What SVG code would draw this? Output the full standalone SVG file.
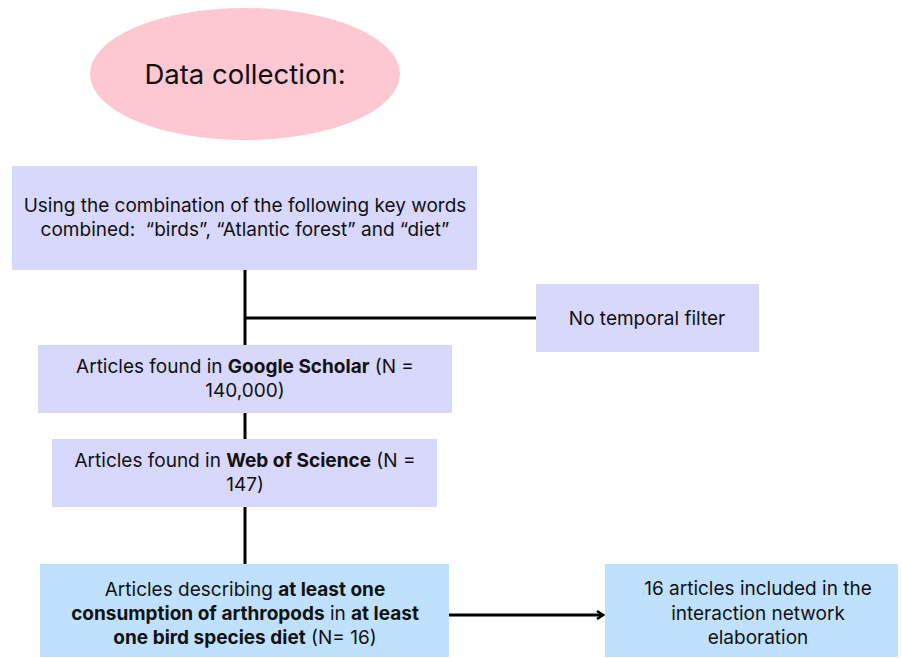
<svg xmlns="http://www.w3.org/2000/svg" width="902" height="658" viewBox="0 0 902 658">
<defs>
<style>
text{font-family:"Inter","Liberation Sans",sans-serif;font-size:19px;fill:#111;text-anchor:middle}
.b{font-weight:bold}
.lav{fill:#d8d7fc}
.blu{fill:#bfe1fd}
.ln{stroke:#000;stroke-width:3;fill:none}
</style>
<marker id="ah" markerWidth="10" markerHeight="10" refX="8" refY="5" orient="auto" markerUnits="userSpaceOnUse">
<path d="M2,1 L8,5 L2,9" fill="none" stroke="#000" stroke-width="2.5"/>
</marker>
</defs>
<g id="connectors">
<line class="ln" x1="245" y1="270" x2="245" y2="345"/>
<line class="ln" x1="245" y1="318" x2="536" y2="318"/>
<line class="ln" x1="245" y1="413" x2="245" y2="439"/>
<line class="ln" x1="245" y1="507" x2="245" y2="564"/>
<line class="ln" x1="449" y1="615" x2="603" y2="615" marker-end="url(#ah)"/>
</g>
<g id="title">
<ellipse cx="245" cy="74" rx="155" ry="66" fill="#fec8d3"/>
<text x="245" y="84" style="font-size:27.5px">Data collection:</text>
</g>
<g id="keywords">
<rect class="lav" x="12" y="166" width="465" height="104"/>
<text x="245" y="212">Using the combination of the following key words</text>
<text x="245" y="236">combined:&#160; “birds”, “Atlantic forest” and “diet”</text>
</g>
<g id="temporal">
<rect class="lav" x="536" y="284" width="223" height="68"/>
<text x="647" y="325">No temporal filter</text>
</g>
<g id="scholar">
<rect class="lav" x="38" y="345" width="414" height="68"/>
<text x="245" y="373">Articles found in <tspan class="b">Google Scholar</tspan> (N =</text>
<text x="245" y="397">140,000)</text>
</g>
<g id="wos">
<rect class="lav" x="52" y="439" width="385" height="68"/>
<text x="245" y="467">Articles found in <tspan class="b">Web of Science</tspan> (N =</text>
<text x="245" y="491">147)</text>
</g>
<g id="describing">
<rect class="blu" x="40" y="564" width="409" height="93"/>
<text x="245" y="596">Articles describing <tspan class="b">at least one</tspan></text>
<text x="245" y="620"><tspan class="b">consumption of arthropods</tspan> in <tspan class="b">at least</tspan></text>
<text x="245" y="644"><tspan class="b">one bird species diet</tspan> (N= 16)</text>
</g>
<g id="included">
<rect class="blu" x="605" y="564" width="293" height="93"/>
<text x="758" y="595">16 articles included in the</text>
<text x="758" y="620">interaction network</text>
<text x="758" y="644">elaboration</text>
</g>
</svg>
